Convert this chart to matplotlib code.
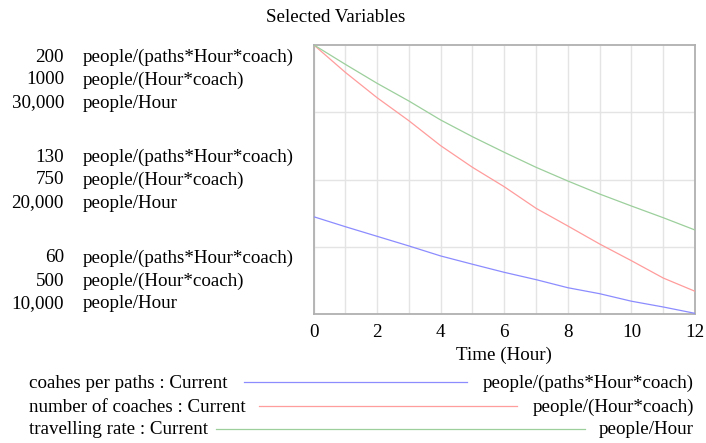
import matplotlib
matplotlib.use("Agg")
import matplotlib.pyplot as plt
from matplotlib.lines import Line2D

plt.rcParams['font.family'] = ['Liberation Serif', 'DejaVu Serif']

W, H = 706, 443
FS = 13.7

hours = list(range(13))
coaches_per_path = [110.7, 105.5, 100.5, 95.5, 90.3, 86.0, 81.8, 78.0, 73.8, 70.7, 66.8, 63.8, 60.5]
number_of_coaches = [1000, 948.8, 901.7, 859.0, 812.7, 772.6, 736.6, 696.6, 663.8, 630.4, 599.4, 567.3, 542.7]
travelling_rate = [30000, 28546, 27136, 25823, 24414, 23175, 22018, 20905, 19889, 18924, 18034, 17166, 16254]

series_names = ["coahes per paths : Current", "number of coaches : Current", "travelling rate : Current"]
units = ["people/(paths*Hour*coach)", "people/(Hour*coach)", "people/Hour"]
colors = ["#8c8cff", "#ff9c9c", "#9ccf9c"]
y_ranges = [(60, 200), (500, 1000), (10000, 30000)]
axis_labels = [["200", "130", "60"], ["1000", "750", "500"], ["30,000", "20,000", "10,000"]]
x_ticks = [0, 2, 4, 6, 8, 10, 12]


def fx(px):
    return px / W


def fy(py):
    return 1 - py / H


fig = plt.figure(figsize=(W / 100, H / 100), dpi=100)

left, right, top, bottom = 313.5, 695.0, 44.7, 314.3
ax = fig.add_axes([fx(left), fy(bottom), fx(right) - fx(left), fy(top) - fy(bottom)])
ax.set_xlim(0, 12)
ax.set_ylim(0, 4)
ax.set_yticks([1, 2, 3])
ax.set_xticks(x_ticks, labels=[str(t) for t in x_ticks])
ax.set_xticks(range(13), minor=True)
ax.grid(True, which="major", color="#e4e4e4", linewidth=1.0)
ax.grid(True, which="minor", axis="x", color="#e4e4e4", linewidth=1.0)
ax.tick_params(axis="both", which="both", length=0, labelsize=FS, pad=7)
ax.tick_params(axis="y", labelleft=False)
for s in ax.spines.values():
    s.set_color("#b0b0b0")
    s.set_linewidth(1.3)
ax.set_xlabel("Time (Hour)", fontsize=FS, labelpad=4)

data = [coaches_per_path, number_of_coaches, travelling_rate]
for vals, col, rng in zip(data, colors, y_ranges):
    a = ax.twinx()
    a.set_ylim(*rng)
    a.set_xlim(0, 12)
    a.plot(hours, vals, color=col, linewidth=0.9)
    a.axis("off")

fig.text(fx(336), fy(17), "Selected Variables", ha="center", va="center", fontsize=FS)

# scale labels for each axis position (top, middle, bottom)
group_rows = [[57, 80, 103], [157, 180, 203], [258, 281, 304]]
for g, rows in enumerate(group_rows):
    for i, ypix in enumerate(rows):
        fig.text(fx(64), fy(ypix), axis_labels[i][g], ha="right", va="center", fontsize=FS)
        fig.text(fx(83), fy(ypix), units[i], ha="left", va="center", fontsize=FS)

# legend rows
leg_y = [383, 407, 430]
line_span = [(244, 467), (259, 517), (216, 585)]
for name, unit, col, yp, (x0, x1) in zip(series_names, units, colors, leg_y, line_span):
    fig.text(fx(29), fy(yp), name, ha="left", va="center", fontsize=FS)
    fig.add_artist(Line2D([fx(x0), fx(x1)], [fy(yp - 1), fy(yp - 1)], color=col, linewidth=0.9,
                          transform=fig.transFigure))
    fig.text(fx(694), fy(yp), unit, ha="right", va="center", fontsize=FS)

fig.savefig("out.png", dpi=100)
